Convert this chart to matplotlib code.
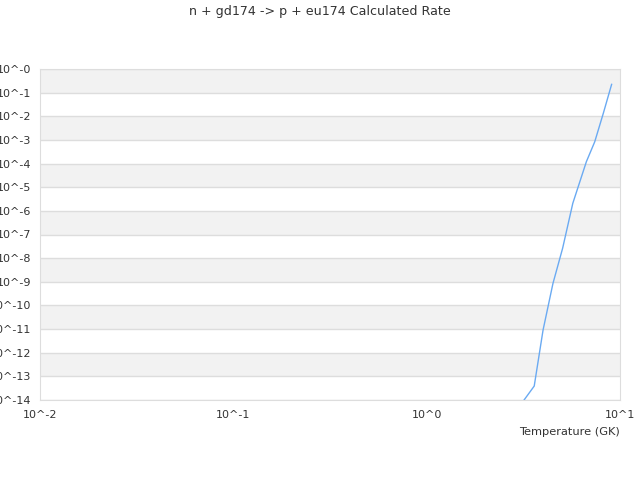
import matplotlib
matplotlib.use("Agg")
import matplotlib.pyplot as plt
import numpy as np

# rate data (temperature in GK, log10 of rate)
temps = [3.0, 3.6, 4.0, 4.5, 5.05, 5.7, 6.7, 7.4, 8.2, 9.05]
log_rate = [-14.3, -13.41, -11.04, -9.07, -7.58, -5.68, -3.92, -3.08, -1.87, -0.65]

y_decades = list(range(0, -15, -1))
y_labels = ["10^-%d" % abs(d) for d in y_decades]
x_decades = [-2, -1, 0, 1]
x_labels = ["10^-2", "10^-1", "10^0", "10^1"]

rate = [10.0 ** v for v in log_rate]

fig = plt.figure(figsize=(6.4, 4.8), dpi=100)
ax = fig.add_axes([40 / 640, 1 - 400 / 480, 580 / 640, 331 / 480])

# alternating bands like the original
for d in range(0, -14, -1):
    if d % 2 == 0:
        ax.axhspan(10.0 ** (d - 1), 10.0 ** d, color="#f2f2f2", lw=0, zorder=0)

ax.plot(temps, rate, color="#6aaaf2", lw=1.0, zorder=3, clip_on=True)

ax.set_xscale("log")
ax.set_yscale("log")
ax.set_xlim(1e-2, 1e1)
ax.set_ylim(1e-14, 1e0)

ax.set_yticks([10.0 ** d for d in y_decades])
ax.set_yticklabels(y_labels)
ax.set_xticks([10.0 ** d for d in x_decades])
ax.set_xticklabels(x_labels)
ax.minorticks_off()
ax.tick_params(length=0, labelsize=8, colors="#333333")
ax.tick_params(axis="x", pad=7)
ax.tick_params(axis="y", pad=6)

ax.grid(axis="y", color="#dddddd", lw=1)
ax.set_axisbelow(True)
for s in ax.spines.values():
    s.set_color("#dddddd")

ax.set_xlabel("Temperature (GK)", fontsize=8.2, color="#333333")
ax.xaxis.set_label_coords(1.0, -0.083)
ax.xaxis.label.set_horizontalalignment("right")

fig.suptitle("n + gd174 -> p + eu174 Calculated Rate", fontsize=9.1,
             color="#333333", y=1 - 12 / 480, va="center")

fig.savefig("out.png", dpi=100)
